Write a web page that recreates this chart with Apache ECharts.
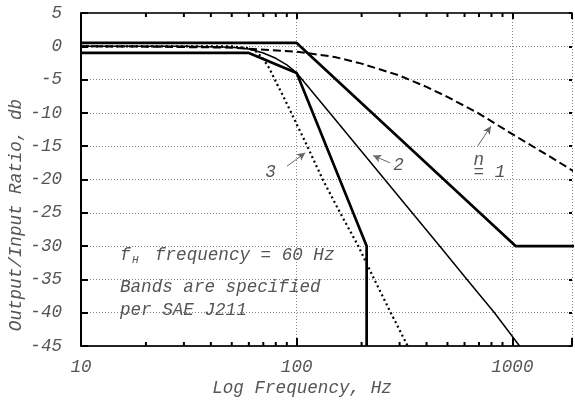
<!DOCTYPE html>
<html>
<head>
<meta charset="utf-8">
<script src="https://cdn.jsdelivr.net/npm/echarts@6/dist/echarts.min.js"></script>
<style>
html, body { margin: 0; padding: 0; background: #fff; }
#chart { width: 575px; height: 401px; }
</style>
</head>
<body>
<div id="chart"></div>
<script>
// SAE J211 CFC 60 response corridor with filter responses of order n = 1, 2, 3
// Frequencies in Hz, levels in dB.

const upperBandFreq = [10, 100, 1035, 2000];
const upperBandDb   = [0.5, 0.5, -30, -30];

const lowerBandFreq = [10, 60, 100, 211, 211];
const lowerBandDb   = [-1, -1, -4, -30, -45];

const order1Freq = [10, 20, 50, 100, 150, 200, 300, 400, 500, 700, 1000, 1500, 2000];
const order1Db   = [0, -0.05, -0.2, -0.8, -1.6, -2.6, -4.4, -6.1, -7.6, -10.1, -13.2, -16.6, -19.1];

const order2Freq = [10, 30, 40, 50, 60, 70, 80, 90, 100, 142.5, 191, 256, 343, 460, 616, 826, 1080];
const order2Db   = [0, 0, -0.05, -0.15, -0.4, -1.0, -1.8, -2.8, -4.0, -10, -15, -20, -25, -30, -35, -40, -45];

const order3Freq = [10, 50, 60, 65, 70, 75, 80, 86.6, 94.4, 101, 112, 132, 159, 193, 229, 273, 327];
const order3Db   = [0, 0, -0.3, -0.8, -1.9, -3.4, -5.3, -7.5, -10, -12, -15, -20, -25, -30, -35, -40, -45];

const xLabelValues = [10, 100, 1000];
const xMinorTicks  = [20, 30, 40, 50, 60, 70, 80, 90, 200, 300, 400, 500, 600, 700, 800, 900];
const xMin = 10, xMax = 1890;
const yMin = -45, yMax = 5, yStep = 5;

// curve labels and their pointer arrows, in (Hz, dB)
const curveLabels = [
  { text: '3', at: [75.6, -19] },
  { text: '2', at: [297, -17.8] },
  { text: 'n', at: [661, -17.1] },
  { text: '= 1', at: [661, -18.9] }
];
const arrowFrom = [[90.2, -18], [271, -17.5], [690, -15]];
const arrowTo   = [[109.6, -16], [226, -16.4], [795, -12]];

const FONT = 'Liberation Mono';
const TXT = '#555';
const FS = 17.6;

const zip = (xs, ys) => xs.map((x, i) => [x, ys[i]]);

const chart = echarts.init(document.getElementById('chart'), null, { renderer: 'canvas' });

const italic = { fontFamily: FONT, fontStyle: 'italic', fontSize: FS, color: TXT };

chart.setOption({
  animation: false,
  backgroundColor: '#fff',
  grid: { left: 81, top: 13, right: 0, height: 333, show: false },
  xAxis: [{
    type: 'log', logBase: 10, min: xMin, max: xMax, position: 'bottom',
    axisLine: { show: true, onZero: false, lineStyle: { color: '#222', width: 2 } },
    axisTick: { show: true, inside: true, length: 8, lineStyle: { color: '#000', width: 2 } },
    axisLabel: Object.assign({}, italic, {
      margin: 12,
      formatter: v => (xLabelValues.indexOf(Math.round(v)) >= 0 ? String(Math.round(v)) : '')
    }),
    splitLine: { show: true, lineStyle: { color: '#888', width: 1, type: [1, 2] } }
  }, {
    type: 'log', logBase: 10, min: xMin, max: xMax, position: 'top',
    axisLine: { show: true, onZero: false, lineStyle: { color: '#333', width: 2 } },
    axisTick: { show: true, inside: true, length: 6, lineStyle: { color: '#000', width: 2 } },
    axisLabel: { show: false },
    splitLine: { show: false }
  }],
  yAxis: [{
    type: 'value', min: yMin, max: yMax, interval: yStep,
    axisLine: { show: true, onZero: false, lineStyle: { color: '#000', width: 2 } },
    axisTick: { show: true, inside: true, length: 7, lineStyle: { color: '#000', width: 2 } },
    axisLabel: Object.assign({}, italic, { margin: 19 }),
    splitLine: { show: true, lineStyle: { color: '#888', width: 1, type: [1, 2] } }
  }, {
    type: 'value', min: yMin, max: yMax, interval: yStep, position: 'right',
    axisLine: { show: false, onZero: false },
    axisTick: { show: true, inside: true, length: 3, lineStyle: { color: '#000', width: 2 } },
    axisLabel: { show: false },
    splitLine: { show: false }
  }],
  series: [
    {
      name: 'n = 3', type: 'line', data: zip(order3Freq, order3Db),
      showSymbol: false, silent: true, clip: true, z: 3,
      lineStyle: { color: '#000', width: 2.2, type: [2, 3] }
    },
    {
      name: 'n = 2', type: 'line', data: zip(order2Freq, order2Db),
      showSymbol: false, silent: true, clip: true, z: 3,
      lineStyle: { color: '#000', width: 1.5 }
    },
    {
      name: 'n = 1', type: 'line', data: zip(order1Freq, order1Db),
      showSymbol: false, silent: true, clip: true, z: 3,
      lineStyle: { color: '#000', width: 2, type: [8, 4] },
      markLine: {
        silent: true, animation: false,
        symbol: ['none', 'arrow'], symbolSize: [6, 8],
        label: { show: false },
        lineStyle: { color: '#666', width: 1, type: 'solid' },
        data: arrowFrom.map((p, i) => [{ coord: p }, { coord: arrowTo[i] }])
      }
    },
    {
      name: 'upper limit', type: 'line', data: zip(upperBandFreq, upperBandDb),
      showSymbol: false, silent: true, clip: true, z: 4,
      lineStyle: { color: '#000', width: 2.7 }
    },
    {
      name: 'lower limit', type: 'line', data: zip(lowerBandFreq, lowerBandDb),
      showSymbol: false, silent: true, clip: true, z: 4,
      lineStyle: { color: '#000', width: 2.7 }
    },
    {
      // minor log ticks on the bottom and top frame
      type: 'custom', silent: true, z: 5,
      data: xMinorTicks.map(f => [f, yMin]),
      encode: { x: 0, y: 1 },
      renderItem: (params, api) => {
        const b = api.coord([api.value(0), yMin]);
        const t = api.coord([api.value(0), yMax]);
        return {
          type: 'group',
          children: [
            { type: 'line', shape: { x1: b[0], y1: b[1], x2: b[0], y2: b[1] - 4 }, style: { stroke: '#000', lineWidth: 2 } },
            { type: 'line', shape: { x1: t[0], y1: t[1], x2: t[0], y2: t[1] + 4 }, style: { stroke: '#000', lineWidth: 2 } }
          ]
        };
      }
    }
  ]
});

const textStyle = (text, extra) => Object.assign({
  text: text, fill: TXT, font: 'italic ' + FS + 'px "' + FONT + '"',
  textAlign: 'left', textVerticalAlign: 'middle'
}, extra || {});

const graphics = [
  { type: 'text', x: 302, y: 388, style: textStyle('Log Frequency, Hz', { textAlign: 'center' }) },
  { type: 'text', x: 16, y: 215, rotation: Math.PI / 2, style: textStyle('Output/Input Ratio, db', { textAlign: 'center' }) },
  { type: 'text', x: 120, y: 255, style: textStyle('f') },
  { type: 'text', x: 132, y: 260, style: textStyle('H', { font: 'italic 11px "' + FONT + '"' }) },
  { type: 'text', x: 155, y: 255, style: textStyle('frequency = 60 Hz') },
  { type: 'text', x: 120, y: 287, style: textStyle('Bands are specified') },
  { type: 'text', x: 120, y: 310, style: textStyle('per SAE J211') }
];

curveLabels.forEach(l => {
  const p = chart.convertToPixel({ gridIndex: 0 }, l.at);
  graphics.push({
    type: 'text', x: p[0], y: p[1],
    style: textStyle(l.text, { textAlign: l.text === '2' || l.text === '3' ? 'center' : 'left' })
  });
});

chart.setOption({ graphic: graphics.map(g => Object.assign({ silent: true, z: 10 }, g)) });
</script>
</body>
</html>
